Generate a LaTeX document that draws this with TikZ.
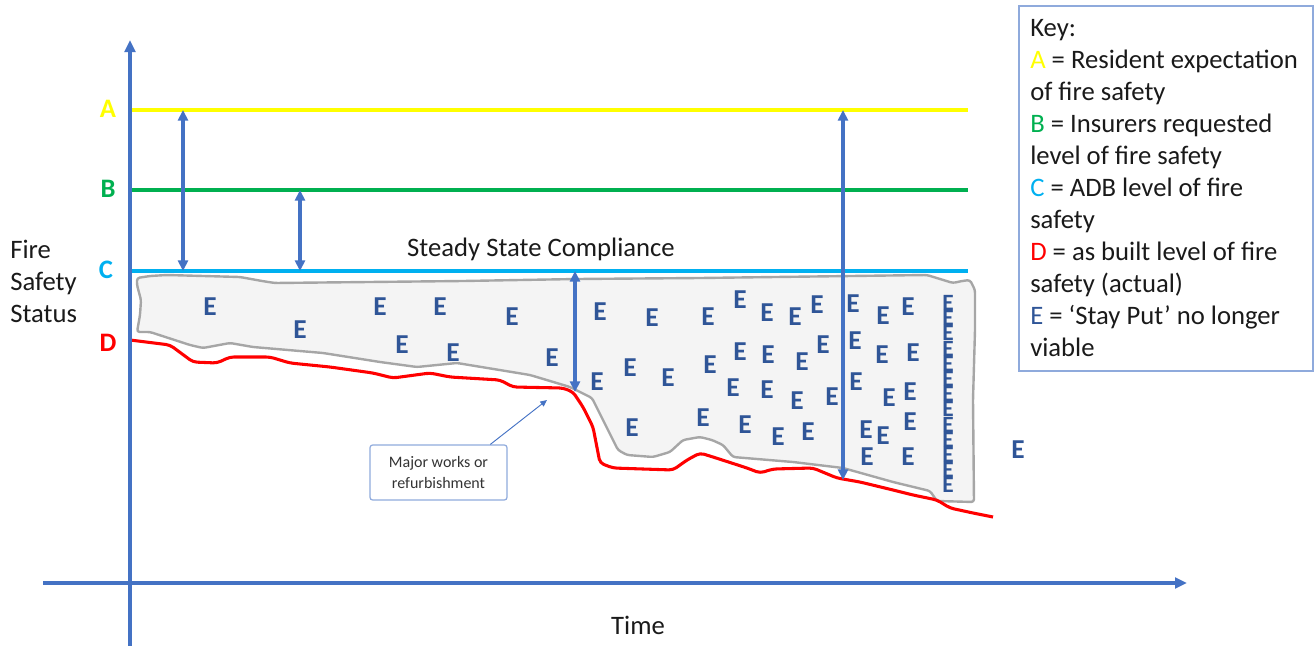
\documentclass[tikz,border=0pt]{standalone}
\usepackage{fontspec}
\setmainfont{Carlito}
\usetikzlibrary{arrows.meta,calc}

\definecolor{axisblue}{HTML}{4472C4}
\definecolor{levA}{HTML}{FFFF00}
\definecolor{levB}{HTML}{00B050}
\definecolor{levC}{HTML}{00B0F0}
\definecolor{levD}{HTML}{FF0000}
\definecolor{ecol}{HTML}{2F5597}
\definecolor{zonefill}{HTML}{F4F4F4}
\definecolor{zoneline}{HTML}{A6A6A6}
\definecolor{keyline}{HTML}{8FAADC}
\definecolor{txt}{HTML}{1A1A1A}
\definecolor{txtsoft}{HTML}{333333}

\begin{document}
\begin{tikzpicture}[x=0.75pt,y=-0.75pt,
  axis/.style={draw=axisblue, line width=2.5pt, -{Triangle[length=9pt,width=8pt]}},
  level/.style={line width=2.3pt},
  gaparrow/.style={draw=axisblue, line width=2.6pt,
    {Triangle[length=8pt,width=7.5pt]}-{Triangle[length=8pt,width=7.5pt]}},
  lvlabel/.style={font=\fontsize{20}{22}\selectfont\bfseries, inner sep=0pt, anchor=base},
  eletter/.style={text=ecol, font=\fontsize{20.5}{20.5}\selectfont\bfseries, inner sep=0pt},
  ecolumn/.style={text=ecol, font=\fontsize{17.5}{11.4}\selectfont\bfseries, inner sep=0pt,
    align=center},
  bodytext/.style={text=txt, font=\fontsize{20}{24}\selectfont, inner sep=0pt},
]
\useasboundingbox (0,0) rectangle (1314,646);

% ---- zone where 'stay put' is no longer viable
\path[fill=zonefill, draw=zoneline, line width=1.8pt, line join=round, rounded corners=2pt]
  (137,278) -- (150,276) -- (167,275) -- (240,277) -- (262,281) -- (275,283)
  -- (463,281) -- (577,279) -- (700,278) -- (927,275) -- (940,279) -- (953,283)
  -- (962,281) -- (970,280) -- (975,290) -- (975,330) -- (973,400) -- (974,502)
  -- (937,501) -- (930,491) -- (893,482) -- (843,468) -- (793,462) -- (733,457)
  -- (723,445) -- (712,440) -- (700,437) -- (683,440) -- (670,452) -- (653,457)
  -- (627,455) -- (618,450) -- (603,420) -- (592,398) -- (580,392) -- (570,387)
  -- (530,375) -- (457,363) -- (417,367) -- (380,362) -- (323,353) -- (253,347)
  -- (230,343) -- (203,348) -- (190,345) -- (150,332) -- (137,332) -- (140,315)
  -- (141,300) -- (137,285) -- cycle;

% ---- level lines
\coordinate (yTop) at (130,40);
\coordinate (yBot) at (130,646);
\coordinate (xLeft) at (43,583);
\coordinate (xRight) at (1187,583);
\coordinate (aL) at (130,110); \coordinate (aR) at (968,110);
\coordinate (bL) at (130,190); \coordinate (bR) at (968,190);
\coordinate (cL) at (130,271); \coordinate (cR) at (968,271);

\draw[level, levA] (aL) -- (aR);
\draw[level, levB] (bL) -- (bR);
\draw[level, levC] (cL) -- (cR);

% ---- as built level (actual)
\draw[levD, line width=2.3pt, line join=round, rounded corners=3pt]
  (130,340) -- (170,345) -- (193,362) -- (217,363) -- (230,357) -- (270,357)
  -- (290,363) -- (330,367) -- (373,373) -- (393,378) -- (430,373) -- (450,377)
  -- (500,380) -- (513,387) -- (563,388) -- (573,392) -- (583,407) -- (593,427)
  -- (600,463) -- (613,468) -- (673,470) -- (687,460) -- (700,453) -- (713,457)
  -- (747,468) -- (760,473) -- (773,469) -- (813,468) -- (837,478) -- (860,482)
  -- (893,490) -- (913,495) -- (937,500) -- (950,508) -- (973,513) -- (993,517);

% ---- axes
\draw[axis] (yBot) -- (yTop);
\draw[axis] (xLeft) -- (xRight);

% ---- gaps between levels
\coordinate (g1t) at (183,110); \coordinate (g1b) at (183,271);
\coordinate (g2t) at (300,190); \coordinate (g2b) at (300,271);
\coordinate (g3t) at (575,271); \coordinate (g3b) at (575,392);
\coordinate (g4t) at (843,110); \coordinate (g4b) at (843,480);
\draw[gaparrow] (g1t) -- (g1b);
\draw[gaparrow] (g2t) -- (g2b);
\draw[gaparrow] (g3t) -- (g3b);
\draw[gaparrow] (g4t) -- (g4b);

% ---- level labels
\node[lvlabel, text=levA] (labA) at (108,117) {A};
\node[lvlabel, text=levB] (labB) at (108,197) {B};
\node[lvlabel, text=levC] (labC) at (106,278) {C};
\node[lvlabel, text=levD] (labD) at (108,351) {D};

% ---- axis titles
\node[bodytext, anchor=north west, align=left] (ytitle) at (10,240)
  {Fire\\Safety\\Status};
\node[bodytext, anchor=base] (xtitle) at (638,634) {Time};
\node[bodytext, anchor=base] (steady) at (541,256) {Steady State Compliance};

% ---- E markers
\foreach \ex/\ey [count=\i] in {
  210/307, 300/330, 380/307, 440/307, 512/317, 402/345, 453/353, 552/358,
  600/312, 652/318, 708/317, 740/300, 767/313, 795/317, 817/305, 853/304,
  883/316, 908/307,
  597/382, 630/368, 668/378, 710/365, 740/352, 768/355, 802/362, 823/345,
  855/341, 882/355, 913/353,
  733/388, 767/390, 797/401, 832/397, 856/382, 889/398, 910/392,
  632/428, 703/418, 745/425, 778/437, 808/432, 866/430, 883/436, 910/422,
  867/457, 908/457,
  1018/450}
  \node[eletter] (e\i) at (\ex,\ey) {E};
% stacked column along the right-hand edge
\node[ecolumn, anchor=north] (ecol) at (948,295)
  {E\\E\\E\\E\\E\\E\\E\\E\\E\\E\\E\\E\\E};

% ---- major works callout
\node[draw=keyline, line width=0.9pt, rounded corners=2pt, text=txtsoft,
      minimum width=102.75pt, minimum height=41.25pt, align=center,
      font=\fontsize{12}{15.5}\selectfont] (works) at (438.5,472.5)
  {Major works or\\refurbishment};
\coordinate (worksTip) at (547,400);
\draw[axisblue, line width=0.7pt, -{Triangle[length=5pt,width=4.5pt]}]
  ($(works.north)!0.75!(works.north east)$) -- (worksTip);

% ---- key
\node[draw=keyline, line width=1.5pt, anchor=north west,
      minimum width=220.5pt, minimum height=273.75pt, inner sep=0pt] (keybox) at (1018,5) {};
\node[bodytext, anchor=north west, align=left] (keytext) at (1030,19)
  {Key:\\
   \textcolor{levA}{A} = Resident expectation\\
   of fire safety\\
   \textcolor{levB}{B} = Insurers requested\\
   level of fire safety\\
   \textcolor{levC}{C} = ADB level of fire\\
   safety\\
   \textcolor{levD}{D} = as built level of fire\\
   safety (actual)\\
   \textcolor{ecol}{E} = ‘Stay Put’ no longer\\
   viable};
\end{tikzpicture}
\end{document}
